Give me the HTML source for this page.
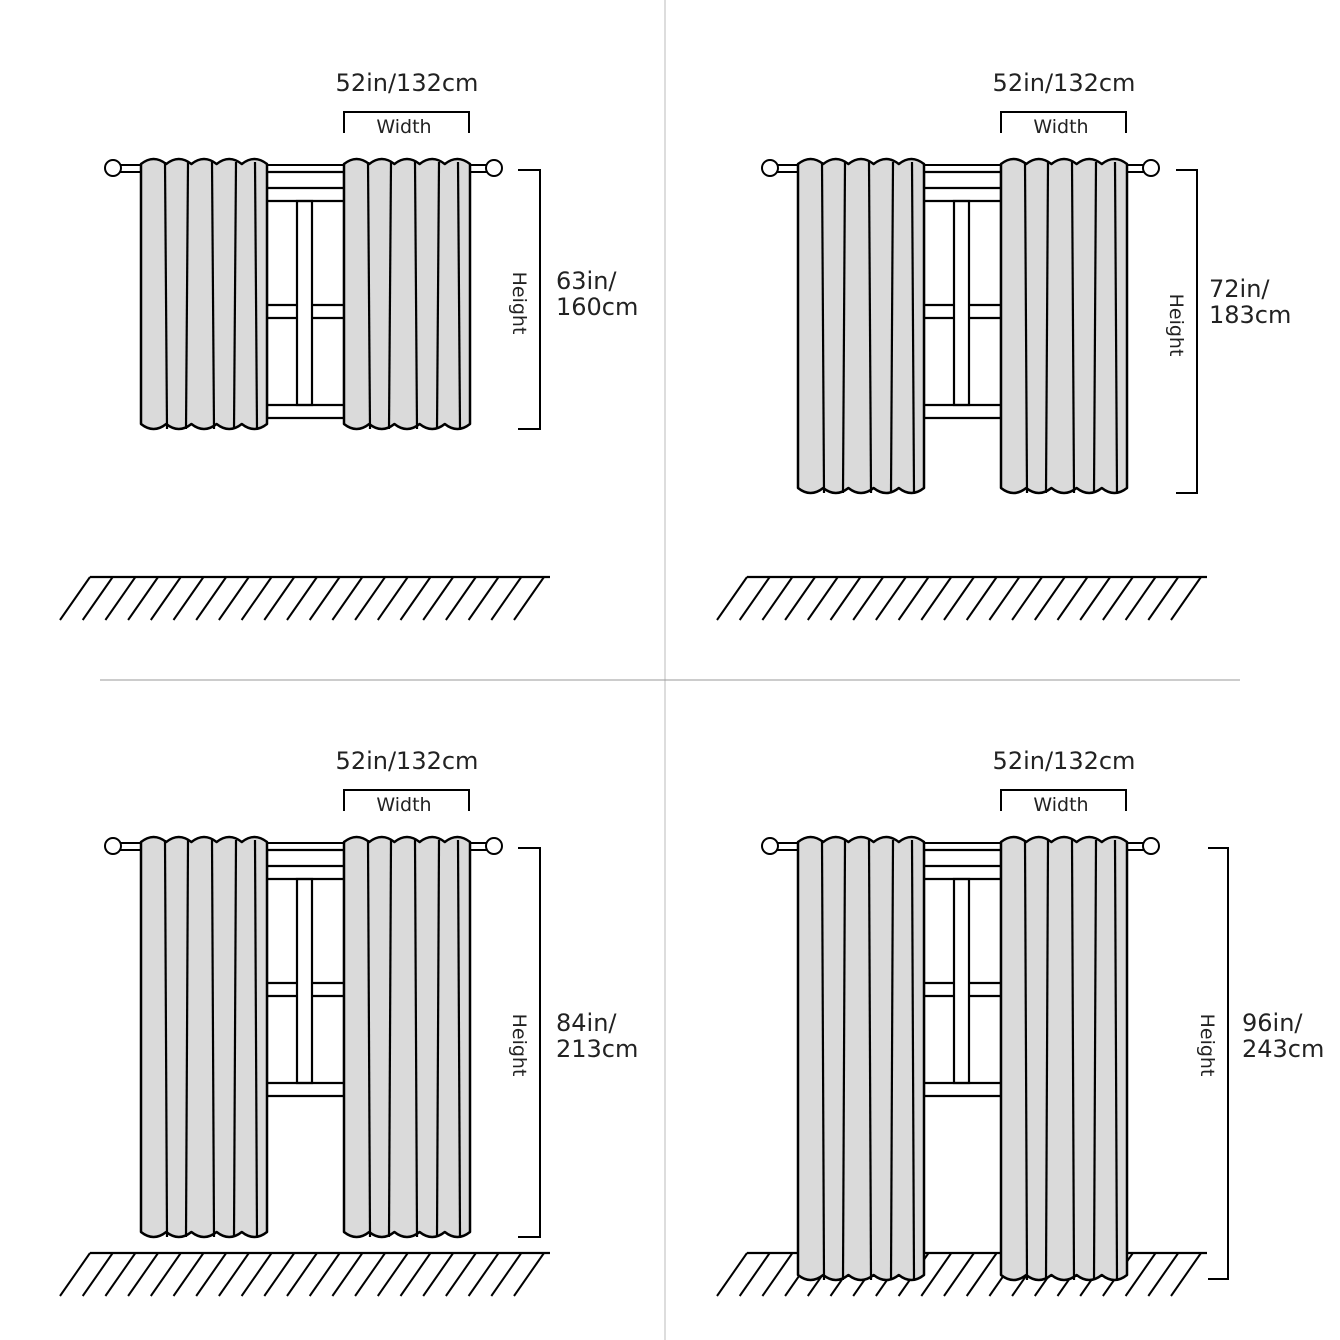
<!DOCTYPE html>
<html><head><meta charset="utf-8"><style>
html,body{margin:0;padding:0;background:#fff;}
svg{display:block;}
text{font-family:"DejaVu Sans","Liberation Sans",sans-serif;fill:#222;}
</style></head><body>
<svg id="s" width="1340" height="1340" viewBox="0 0 1340 1340" xmlns="http://www.w3.org/2000/svg">
<rect width="1340" height="1340" fill="#fff"/>
<line x1="665" y1="0" x2="665" y2="1340" stroke="#bbb" stroke-width="1"/>
<line x1="100" y1="680" x2="1240" y2="680" stroke="#999" stroke-width="1"/>
</svg>
<script>
var s=document.getElementById('s');var h='';
function curtain(x,top,bot){
  var w=126,p='M'+x+','+(top+4);
  for(var i=0;i<5;i++){var a=x+i*w/5;p+=' Q'+(a+w/10)+','+(top-6)+' '+(a+w/5)+','+(top+4);}
  p+=' L'+(x+w)+','+(bot-4);
  for(var i=5;i>0;i--){var a=x+i*w/5;p+=' Q'+(a-w/10)+','+(bot+6)+' '+(a-w/5)+','+(bot-4);}
  p+=' Z';
  h+='<path d="'+p+'" fill="#dadada" stroke="#000" stroke-width="2.5" stroke-linejoin="round"/>';
  [24,47,71,95,114].forEach(function(o,k){h+='<line x1="'+(x+o)+'" y1="'+(top+2)+'" x2="'+(x+o+(k%2?-2:2))+'" y2="'+(bot+1)+'" stroke="#000" stroke-width="2.2"/>';});
}
function quad(dx,dy,bot,bx,txt1,txt2,tx,ty,hy,floorY,floorX0,floorX1,tickFrom){
  var ry=168+dy;
  h+='<rect x="'+(113+dx)+'" y="'+(ry-3)+'" width="381" height="7" fill="#fff" stroke="#000" stroke-width="2"/>';
  h+='<circle cx="'+(113+dx)+'" cy="'+ry+'" r="8" fill="#fff" stroke="#000" stroke-width="2"/>';
  h+='<circle cx="'+(494+dx)+'" cy="'+ry+'" r="8" fill="#fff" stroke="#000" stroke-width="2"/>';
  var wx0=267+dx,wx1=344+dx,g='stroke="#000" stroke-width="2.2" fill="none"';
  h+='<line x1="'+wx0+'" y1="'+(172+dy)+'" x2="'+wx0+'" y2="'+(418+dy)+'" '+g+'/>';
  h+='<line x1="'+wx1+'" y1="'+(172+dy)+'" x2="'+wx1+'" y2="'+(418+dy)+'" '+g+'/>';
  [172,188,201,405,418].forEach(function(r){h+='<line x1="'+wx0+'" y1="'+(r+dy)+'" x2="'+wx1+'" y2="'+(r+dy)+'" '+g+'/>';});
  h+='<rect x="'+(297+dx)+'" y="'+(201+dy)+'" width="15" height="204" '+g+'/>';
  h+='<line x1="'+wx0+'" y1="'+(305+dy)+'" x2="'+(297+dx)+'" y2="'+(305+dy)+'" '+g+'/>';
  h+='<line x1="'+wx0+'" y1="'+(318+dy)+'" x2="'+(297+dx)+'" y2="'+(318+dy)+'" '+g+'/>';
  h+='<line x1="'+(312+dx)+'" y1="'+(305+dy)+'" x2="'+wx1+'" y2="'+(305+dy)+'" '+g+'/>';
  h+='<line x1="'+(312+dx)+'" y1="'+(318+dy)+'" x2="'+wx1+'" y2="'+(318+dy)+'" '+g+'/>';
  var fy=floorY;
  var fl='<line x1="'+floorX0+'" y1="'+fy+'" x2="'+floorX1+'" y2="'+fy+'" stroke="#000" stroke-width="2.2"/>';
  for(var x=floorX0;x<=floorX1;x+=22.7){fl+='<line x1="'+x+'" y1="'+fy+'" x2="'+(x-30)+'" y2="'+(fy+43)+'" stroke="#000" stroke-width="2"/>';}
  h+=fl;
  curtain(141+dx,160+dy,bot);curtain(344+dx,160+dy,bot);
  h+='<text x="'+(407+dx)+'" y="'+(91+dy)+'" font-size="24" text-anchor="middle">52in/132cm</text>';
  h+='<path d="M'+(344+dx)+','+(133+dy)+' V'+(112+dy)+' H'+(469+dx)+' V'+(133+dy)+'" fill="none" stroke="#000" stroke-width="2"/>';
  h+='<text x="'+(404+dx)+'" y="'+(133+dy)+'" font-size="19" text-anchor="middle">Width</text>';
  var hb=bot+(bot>1270?0:1);
  h+='<path d="M'+(tickFrom)+','+(170+dy)+' H'+bx+' V'+hb+' H'+tickFrom+'" fill="none" stroke="#000" stroke-width="2"/>';
  h+='<text transform="translate('+(bx-27)+','+hy+') rotate(90)" font-size="19" text-anchor="middle">Height</text>';
  h+='<text x="'+tx+'" y="'+ty+'" font-size="24">'+txt1+'</text>';
  h+='<text x="'+tx+'" y="'+(ty+26)+'" font-size="24">'+txt2+'</text>';
}
quad(0,0,428,540,'63in/','160cm',556,289,303,577,90,550,518);
quad(657,0,492,1197,'72in/','183cm',1209,297,325,577,747,1207,1176);
quad(0,678,1236,540,'84in/','213cm',556,1031,1045,1253,90,550,518);
quad(657,678,1279,1228,'96in/','243cm',1242,1031,1045,1253,747,1207,1208);
s.insertAdjacentHTML('beforeend',h);
</script>
</body></html>
